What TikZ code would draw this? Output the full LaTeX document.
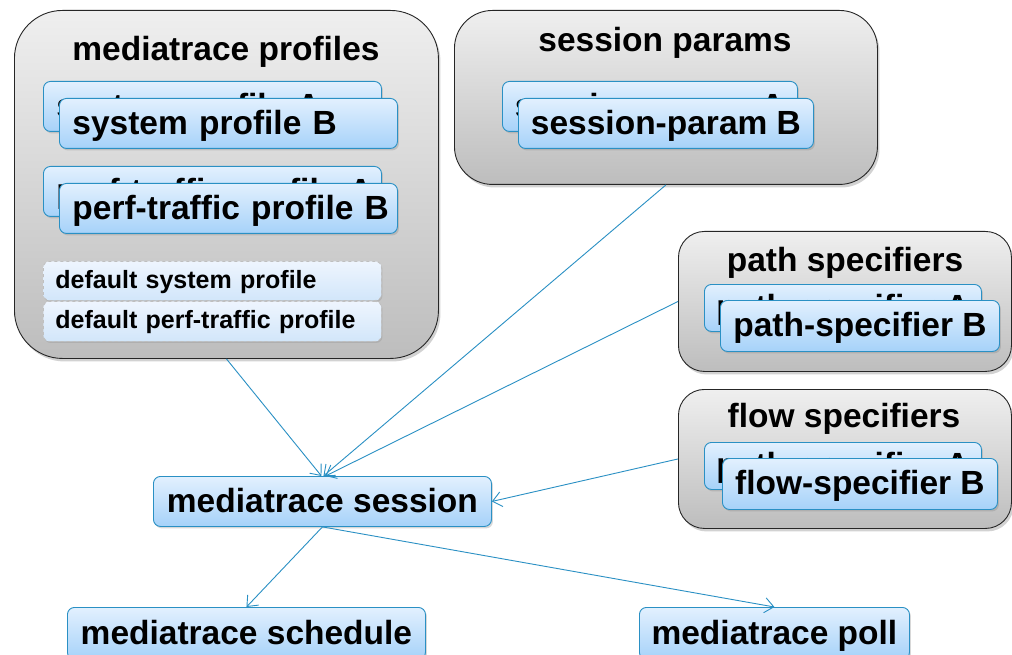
\documentclass[tikz,border=0pt]{standalone}
\usepackage{fontspec}
\setmainfont{Liberation Sans}
\usetikzlibrary{arrows.meta,shadows}
\definecolor{edgeblue}{HTML}{2A90C4}
\definecolor{itemtop}{HTML}{E2F0FE}
\definecolor{itembot}{HTML}{A6D2F9}
\definecolor{deftop}{HTML}{EEF5FE}
\definecolor{defbot}{HTML}{D2E6FA}
\definecolor{grptop}{HTML}{EFEFEF}
\definecolor{grpbot}{HTML}{BDBDBD}
\hfuzz=200pt
\tikzset{
  grp/.style={draw=black!85, line width=0.9pt, top color=grptop, bottom color=grpbot,
    anchor=north west, inner sep=0pt,
    drop shadow={shadow xshift=2pt, shadow yshift=-3pt, opacity=0.35}},
  item/.style={draw=edgeblue, line width=0.9pt, rounded corners=7pt,
    top color=itemtop, bottom color=itembot, anchor=north west, inner sep=0pt,
    font=\fontsize{33.5}{37}\selectfont\bfseries, text height=23pt, text depth=1pt,
    drop shadow={shadow xshift=1.5pt, shadow yshift=-2pt, opacity=0.3}},
  leftitem/.style={item, align=left},
  defitem/.style={draw=black!25, dashed, line width=0.8pt, rounded corners=6pt,
    top color=deftop, bottom color=defbot, anchor=north west, inner sep=0pt,
    font=\fontsize{25}{28}\selectfont\bfseries, align=left, text height=18pt, text depth=3pt,
    drop shadow={shadow xshift=1pt, shadow yshift=-1.5pt, opacity=0.25}},
  grptitle/.style={anchor=base, font=\fontsize{33.5}{37}\selectfont\bfseries},
  conn/.style={draw=edgeblue, line width=0.9pt, -{Straight Barb[length=9pt,width=15pt]}}
}
\begin{document}
\begin{tikzpicture}[x=1pt,y=-1pt]
\clip (0,0) rectangle (1012,655);
\fill[white] (0,0) rectangle (1012,655);
% groups
\node[grp, rounded corners=48pt, minimum width=424pt, minimum height=348pt] (prof) at (14,10) {};
\node[grp, rounded corners=38pt, minimum width=423pt, minimum height=174pt] (params) at (454,10) {};
\node[grp, rounded corners=26pt, minimum width=333pt, minimum height=140pt] (path) at (678,231) {};
\node[grp, rounded corners=26pt, minimum width=333pt, minimum height=139pt] (flow) at (678,389) {};
% titles
\node[grptitle] (proft) at (226,61) {mediatrace profiles};
\node[grptitle] (paramst) at (665,52) {session params};
\node[grptitle] (patht) at (845,271) {path specifiers};
\node[grptitle] (flowt) at (844,427) {flow specifiers};
% profile items
\node[leftitem, minimum width=338pt, minimum height=50pt, text width=312pt] (spa) at (43,81) {\mbox{system profile A}};
\node[leftitem, minimum width=338pt, minimum height=50pt, text width=312pt] (spb) at (59,98) {\mbox{system profile B}};
\node[leftitem, minimum width=338pt, minimum height=50pt, text width=312pt] (pta) at (43,166) {\mbox{perf-traffic profile A}};
\node[leftitem, minimum width=338pt, minimum height=50pt, text width=312pt] (ptb) at (59,183) {\mbox{perf-traffic profile B}};
\node[defitem, minimum width=338pt, minimum height=39pt, text width=314pt] (dsp) at (43,261) {\mbox{default system profile}};
\node[defitem, minimum width=338pt, minimum height=40pt, text width=314pt] (dpt) at (43,301) {\mbox{default perf-traffic profile}};
% session params items
\node[item, minimum width=295pt, minimum height=50pt] (spra) at (502,81) {session-param A};
\node[item, minimum width=295pt, minimum height=50pt] (sprb) at (518,98) {session-param B};
% path items
\node[item, minimum width=277pt, minimum height=47pt] (psa) at (704,284) {path-specifier A};
\node[item, minimum width=279pt, minimum height=51pt] (psb) at (720,300) {path-specifier B};
% flow items
\node[item, minimum width=277pt, minimum height=47pt] (fsa) at (704,442) {path-specifier A};
\node[item, minimum width=275pt, minimum height=51pt] (fsb) at (722,458) {flow-specifier B};
% main nodes
\node[item, minimum width=338pt, minimum height=50pt] (sess) at (153,476) {mediatrace session};
\node[item, minimum width=358pt, minimum height=52pt] (sched) at (67,607) {mediatrace schedule};
\node[item, minimum width=270pt, minimum height=52pt] (poll) at (639,607) {mediatrace poll};
% connectors
\draw[conn] (prof.south) -- ([xshift=-1pt]sess.north);
\draw[conn] (params.south) -- ([xshift=1pt]sess.north);
\draw[conn] (path.west) -- ([xshift=3pt]sess.north);
\draw[conn] (flow.west) -- (sess.east);
\draw[conn] (sess.south) -- (sched.north);
\draw[conn] (sess.south) -- (poll.north);
\end{tikzpicture}
\end{document}
